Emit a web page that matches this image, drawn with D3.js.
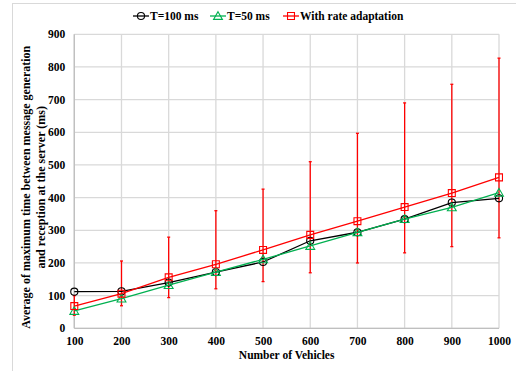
<!DOCTYPE html>
<html lang="en">
	<head>
		<meta charset="utf-8">
		<title>Max time between message generation and reception</title>
		<script type="text/javascript" src="https://cdn.jsdelivr.net/npm/d3@7"></script>
		<style type="text/css">
			body { margin: 0; background: #fff; }
			text { font-family: "Liberation Serif", "Times New Roman", serif; font-weight: bold; }
		</style>
	</head>
	<body>
		<script type="text/javascript">

			//Width and height
			var w = 516;
			var h = 371;

			var vehicles = [100, 200, 300, 400, 500, 600, 700, 800, 900, 1000];
			var t100 = [112, 113, 140, 172, 203, 268, 294, 334, 385, 398];
			var t50 = [53, 91, 132, 172, 211, 252, 294, 334, 370, 415];
			var adapt = [68, 106, 156, 196, 240, 286, 328, 371, 414, 462];
			var adaptLow = [40, 69, 94, 121, 143, 170, 200, 231, 250, 277];
			var adaptHigh = [100, 206, 279, 360, 426, 510, 597, 690, 747, 827];
			var yTicks = [0, 100, 200, 300, 400, 500, 600, 700, 800, 900];

			var pLeft = 74.3, pRight = 499, pTop = 34.3, pBottom = 328.3;

			var xScale = d3.scaleLinear()
			.domain([100, 1000])
			.range([pLeft, pRight]);

			var yScale = d3.scaleLinear()
			.domain([0, 900])
			.range([pBottom, pTop]);

			//Create SVG element
			var svg = d3.select("body")
						.append("svg")
						.attr("width", w)
						.attr("height", h);

			//outer chart border
			svg.append("rect")
			.attr("x", 12.5).attr("y", 3.5)
			.attr("width", 520).attr("height", 380)
			.attr("fill", "none")
			.attr("stroke", "#d9d9d9");

			//gridlines
			svg.selectAll("line.hgrid")
			.data(yTicks)
			.enter()
			.append("line")
			.attr("x1", pLeft).attr("x2", pRight)
			.attr("y1", function(d){return yScale(d);})
			.attr("y2", function(d){return yScale(d);})
			.attr("stroke", "#d9d9d9")
			.attr("stroke-width", 1.3);

			svg.selectAll("line.vgrid")
			.data(vehicles)
			.enter()
			.append("line")
			.attr("x1", function(d){return xScale(d);})
			.attr("x2", function(d){return xScale(d);})
			.attr("y1", pTop).attr("y2", pBottom)
			.attr("stroke", "#d9d9d9")
			.attr("stroke-width", 1.3);

			//axis lines
			svg.append("line")
			.attr("x1", pLeft).attr("x2", pLeft)
			.attr("y1", pTop).attr("y2", pBottom)
			.attr("stroke", "#bfbfbf").attr("stroke-width", 1.3);
			svg.append("line")
			.attr("x1", pLeft).attr("x2", pRight)
			.attr("y1", pBottom).attr("y2", pBottom)
			.attr("stroke", "#bfbfbf").attr("stroke-width", 1.3);

			//tick labels
			var xAxis = d3.axisBottom(xScale).tickValues(vehicles).tickFormat(d3.format("d")).tickSize(0).tickPadding(9);
			var gx = svg.append("g").attr("transform", "translate(0," + pBottom + ")").call(xAxis);
			var yAxis = d3.axisLeft(yScale).tickValues(yTicks).tickFormat(d3.format("d")).tickSize(0).tickPadding(9);
			var gy = svg.append("g").attr("transform", "translate(" + pLeft + ",0)").call(yAxis);
			[gx, gy].forEach(function(g){
				g.select(".domain").remove();
				g.selectAll("text")
				.attr("fill", "#000")
				.attr("font-size", 11.5)
				.attr("font-family", "Liberation Serif")
				.attr("font-weight", "bold");
			});

			//axis titles
			svg.append("text")
			.attr("x", (pLeft + pRight) / 2).attr("y", 359)
			.attr("text-anchor", "middle")
			.attr("font-size", 11.5)
			.text("Number of Vehicles");

			var ytitle = svg.append("text")
			.attr("transform", "translate(29.5," + ((pTop + pBottom) / 2 + 6) + ") rotate(-90)")
			.attr("text-anchor", "middle")
			.attr("font-size", 12);
			ytitle.append("tspan").attr("x", 0).attr("dy", 0)
			.text("Average of maximum time between message generation");
			ytitle.append("tspan").attr("x", 0).attr("dy", 15.5)
			.text("and reception at the server (ms)");

			//error bars
			var errs = svg.append("g");
			vehicles.forEach(function(v, i){
				var x = xScale(v);
				errs.append("line")
				.attr("x1", x).attr("x2", x)
				.attr("y1", yScale(adaptLow[i])).attr("y2", yScale(adaptHigh[i]))
				.attr("stroke", "#ff0000").attr("stroke-width", 1.3);
				[adaptLow[i], adaptHigh[i]].forEach(function(e){
					errs.append("line")
					.attr("x1", x - 1.5).attr("x2", x + 1.5)
					.attr("y1", yScale(e)).attr("y2", yScale(e))
					.attr("stroke", "#ff0000").attr("stroke-width", 1.3);
				});
			});

			var line = d3.line()
			.x(function(d){return xScale(d[0]);})
			.y(function(d){return yScale(d[1]);});

			var series = [
				{ name: "T=100 ms", values: t100, color: "#000000", shape: "circle" },
				{ name: "T=50 ms", values: t50, color: "#00b050", shape: "triangle" },
				{ name: "With rate adaptation", values: adapt, color: "#ff0000", shape: "square" }
			];

			function marker(g, shape, color) {
				var sym = shape === "circle" ? d3.symbolCircle : shape === "triangle" ? d3.symbolTriangle : d3.symbolSquare;
				var size = shape === "circle" ? 40 : shape === "triangle" ? 34 : 48;
				g.append("path")
				.attr("d", d3.symbol().type(sym).size(size)())
				.attr("transform", shape === "triangle" ? "translate(0,0.8)" : null)
				.attr("fill", "none")
				.attr("stroke", color)
				.attr("stroke-width", 1.1);
			}

			series.forEach(function(s){
				var pts = vehicles.map(function(v, i){return [v, s.values[i]];});
				svg.append("path")
				.datum(pts)
				.attr("d", line)
				.attr("fill", "none")
				.attr("stroke", s.color)
				.attr("stroke-width", 1.3);
				pts.forEach(function(p){
					var g = svg.append("g")
					.attr("transform", "translate(" + xScale(p[0]) + "," + yScale(p[1]) + ")");
					marker(g, s.shape, s.color);
				});
			});

			//legend
			var legendX = [133, 210, 283];
			series.forEach(function(s, i){
				var g = svg.append("g").attr("transform", "translate(" + legendX[i] + ",16)");
				g.append("line")
				.attr("x1", 0).attr("x2", 16)
				.attr("y1", 0).attr("y2", 0)
				.attr("stroke", s.color).attr("stroke-width", 1.3);
				var mg = g.append("g").attr("transform", "translate(8,0)");
				marker(mg, s.shape, s.color);
				g.append("text")
				.attr("x", 17).attr("y", 4)
				.attr("font-size", 11.5)
				.text(s.name);
			});

		</script>
	</body>
</html>
